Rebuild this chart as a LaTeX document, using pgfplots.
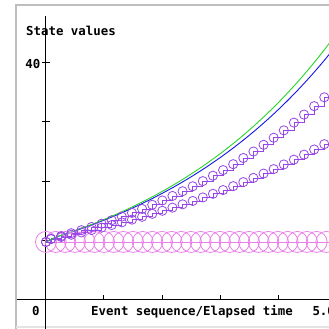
\documentclass[border=0pt]{standalone}
\usepackage{pgfplots}
\pgfplotsset{compat=1.18}
\usepackage{fontspec}
\setmainfont{DejaVu Sans Mono}
\definecolor{cgreen}{RGB}{40,215,40}
\definecolor{cblue}{RGB}{20,20,235}
\definecolor{cpurple}{RGB}{150,70,230}
\definecolor{cpink}{RGB}{232,128,232}
\definecolor{cframe}{RGB}{190,190,190}
\definecolor{cframeb}{RGB}{228,228,228}
\begin{document}
\begin{tikzpicture}[x=1pt,y=1pt]
\useasboundingbox (0,0) rectangle (329,329);
\clip (0,0) rectangle (329,329);
\fill[white] (0,0) rectangle (329,329);
\draw[line width=2pt, cframe] (15.7,-2) -- (15.7,324) -- (340,324);
\draw[line width=1.5pt, cframeb] (15.7,2) -- (340,2);
\begin{axis}[
  at={(16.7pt,0pt)}, anchor=south west,
  scale only axis, width=312.3pt, height=313pt,
  xmin=-0.505, xmax=4.8793, ymin=-5.02, ymax=47.9,
  axis lines=middle,
  axis line style={-, black, line width=1pt},
  every inner x axis line/.append style={-},
  every inner y axis line/.append style={-},
  xtick=\empty,
  ytick={10,20,30,40}, yticklabels={},
  tick align=center, major tick length=7.5pt,
  tick style={black, line width=1pt},
  clip=true,
]
% pink: constant state
\addplot[cpink, line width=0.8pt, mark=o, mark size=10.5pt, mark options={line width=0.8pt}] coordinates {
(0,9.7) (0.1667,9.7) (0.3333,9.7) (0.5,9.7) (0.6667,9.7) (0.8333,9.7) (1,9.7)
(1.1667,9.7) (1.3333,9.7) (1.5,9.7) (1.6667,9.7) (1.8333,9.7) (2,9.7)
(2.1667,9.7) (2.3333,9.7) (2.5,9.7) (2.6667,9.7) (2.8333,9.7) (3,9.7)
(3.1667,9.7) (3.3333,9.7) (3.5,9.7) (3.6667,9.7) (3.8333,9.7) (4,9.7)
(4.1667,9.7) (4.3333,9.7) (4.5,9.7) (4.6667,9.7) (4.8333,9.7) (5,9.7)
};
% lower purple
\addplot[cpurple, line width=0.8pt, const plot, mark=o, mark size=4.6pt, mark options={line width=0.8pt}] coordinates {
(0,9.7) (0.0865,10.175) (0.261,10.539) (0.4355,10.915) (0.61,11.304) (0.7845,11.708)
(0.959,12.126) (1.1335,12.559) (1.308,13.007) (1.4825,13.471) (1.657,13.952)
(1.8315,14.450) (2.006,14.966) (2.1805,15.500) (2.355,16.054) (2.5295,16.627)
(2.704,17.220) (2.8785,17.835) (3.053,18.472) (3.2275,19.131) (3.402,19.814)
(3.5765,20.522) (3.751,21.254) (3.9255,22.013) (4.1,22.799) (4.2745,23.613)
(4.449,24.455) (4.6235,25.328) (4.798,26.232) (4.9725,27.168)
};
% upper purple
\addplot[cpurple, line width=0.8pt, const plot, mark=o, mark size=4.6pt, mark options={line width=0.8pt}] coordinates {
(0,9.7) (0.0865,10.224) (0.261,10.691) (0.4355,11.179) (0.61,11.690) (0.7845,12.224)
(0.959,12.783) (1.1335,13.367) (1.308,13.978) (1.4825,14.616) (1.657,15.284)
(1.8315,15.982) (2.006,16.712) (2.1805,17.476) (2.355,18.274) (2.5295,19.109)
(2.704,19.982) (2.8785,20.895) (3.053,21.849) (3.2275,22.847) (3.402,23.891)
(3.5765,24.982) (3.751,26.124) (3.9255,27.317) (4.1,28.565) (4.2745,29.870)
(4.449,31.234) (4.6235,32.661) (4.798,34.153) (4.9725,35.714)
};
% blue
\addplot[cblue, line width=0.9pt, smooth, no markers] coordinates {
(0,9.7) (0.2,10.599) (0.4,11.234) (0.6,11.908) (0.8,12.621) (1.0,13.378)
(1.2,14.179) (1.4,15.029) (1.6,15.930) (1.8,16.884) (2.0,17.896)
(2.2,18.969) (2.4,20.105) (2.6,21.310) (2.8,22.587) (3.0,23.941)
(3.2,25.375) (3.4,26.896) (3.6,28.508) (3.8,30.216) (4.0,32.027)
(4.2,33.946) (4.4,35.981) (4.6,38.137) (4.8,40.422) (5.0,42.845)
};
% green
\addplot[cgreen, line width=0.9pt, smooth, no markers] coordinates {
(0,9.7) (0.2,10.618) (0.4,11.275) (0.6,11.972) (0.8,12.712) (1.0,13.499)
(1.2,14.333) (1.4,15.220) (1.6,16.161) (1.8,17.160) (2.0,18.221)
(2.2,19.348) (2.4,20.544) (2.6,21.815) (2.8,23.164) (3.0,24.596)
(3.2,26.117) (3.4,27.732) (3.6,29.447) (3.8,31.268) (4.0,33.201)
(4.2,35.254) (4.4,37.434) (4.6,39.749) (4.8,42.207) (5.0,44.817)
};
% x ticks (above the axis only)
\draw[black, line width=1pt] (axis cs:1,0) -- ++(0pt,4.3pt);
\draw[black, line width=1pt] (axis cs:2,0) -- ++(0pt,4.3pt);
\draw[black, line width=1pt] (axis cs:3,0) -- ++(0pt,4.3pt);
\draw[black, line width=1pt] (axis cs:4,0) -- ++(0pt,4.3pt);
\draw[black, line width=1pt] (axis cs:5,0) -- ++(0pt,4.3pt);
\end{axis}
\begin{scope}[every node/.style={inner sep=0pt, font=\bfseries\fontsize{12.4}{14}\selectfont}]
\node[anchor=base west] at (26,293.7) {State values};
\node[anchor=base east] at (40.5,260.3) {40};
\node[anchor=base west] at (32,13.7) {0};
\node[anchor=base west] at (91,13.7) {Event sequence/Elapsed time};
\node[anchor=base west] at (312.3,13.7) {5.0};
\end{scope}
\end{tikzpicture}
\end{document}
